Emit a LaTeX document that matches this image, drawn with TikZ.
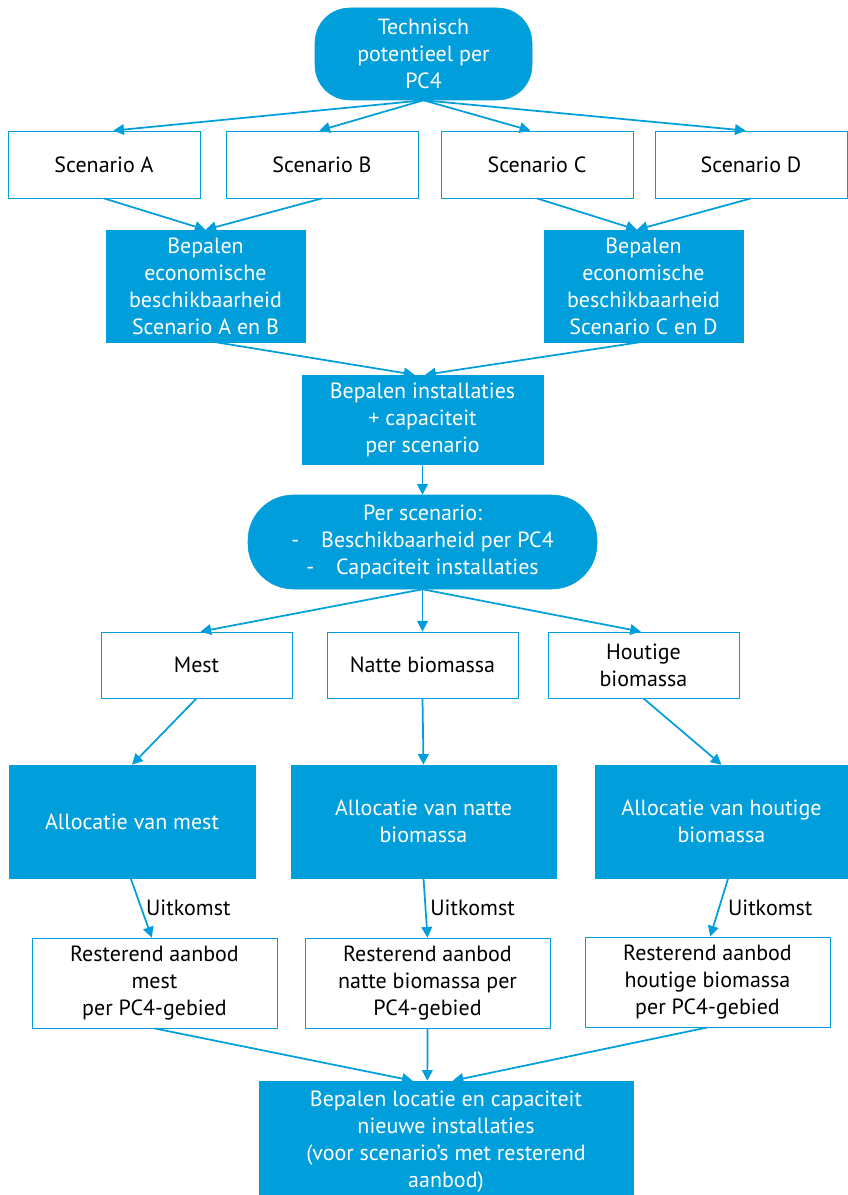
\documentclass[tikz,border=0pt]{standalone}
\usepackage{fontspec}
\setmainfont{PT Sans}
\usetikzlibrary{arrows.meta}
\definecolor{tnoblauw}{RGB}{0,158,219}

\begin{document}
\begin{tikzpicture}[x=0.75pt,y=0.75pt,yscale=-1,xscale=1,
  font=\fontsize{16.5}{20.25}\selectfont,
  vol/.style={fill=tnoblauw,draw=tnoblauw,text=white,align=center,inner sep=0pt},
  leeg/.style={fill=white,draw=tnoblauw,line width=0.6pt,text=black,align=center,inner sep=0pt},
  pijl/.style={draw=tnoblauw,line width=1.3pt,-{Triangle[length=8pt,width=8pt]}}]
\useasboundingbox (0,0) rectangle (848,1195);

% Text Node
\node [vol,rounded corners=26pt,minimum width=162.75pt,minimum height=69pt] (tech) at (423.5,54) {Technisch\\potentieel per\\PC4};
% Text Node
\node [leeg,minimum width=144pt,minimum height=50.25pt] (scenA) at (104,164.5) {Scenario A};
\node [leeg,minimum width=144pt,minimum height=50.25pt] (scenB) at (322,164.5) {Scenario B};
\node [leeg,minimum width=144pt,minimum height=50.25pt] (scenC) at (537,164.5) {Scenario C};
\node [leeg,minimum width=144pt,minimum height=50.25pt] (scenD) at (751,164.5) {Scenario D};
% Text Node
\node [vol,minimum width=149.25pt,minimum height=84pt] (bepAB) at (205.5,286) {Bepalen\\economische\\beschikbaarheid\\Scenario A en B};
\node [vol,minimum width=149.25pt,minimum height=84pt] (bepCD) at (643.5,286) {Bepalen\\economische\\beschikbaarheid\\Scenario C en D};
% Text Node
\node [vol,minimum width=180.75pt,minimum height=66.75pt] (inst) at (422.5,419.5) {Bepalen installaties\\+ capaciteit\\per scenario};
% Text Node
\node [vol,rounded corners=34pt,minimum width=261.75pt,minimum height=70.5pt] (perscen) at (422.5,542) {Per scenario:\\-\quad Beschikbaarheid per PC4\\-\quad Capaciteit installaties};
% Text Node
\node [leeg,minimum width=143.25pt,minimum height=49.5pt] (mest) at (196.5,665) {Mest};
\node [leeg,minimum width=143.25pt,minimum height=49.5pt] (natte) at (422.5,665) {Natte biomassa};
\node [leeg,minimum width=143.25pt,minimum height=49.5pt] (hout) at (643.5,665) {Houtige\\biomassa};
% Text Node
\node [vol,minimum width=184.5pt,minimum height=84.75pt] (allocM) at (132,821.5) {Allocatie van mest};
\node [vol,minimum width=198.75pt,minimum height=84.75pt] (allocN) at (423.5,821.5) {Allocatie van natte\\biomassa};
\node [vol,minimum width=189.75pt,minimum height=84.75pt] (allocH) at (721.5,821.5) {Allocatie van houtige\\biomassa};
% Text Node
\node [leeg,minimum width=183.75pt,minimum height=67.5pt] (restM) at (154.5,983) {Resterend aanbod\\mest\\per PC4-gebied};
\node [leeg,minimum width=183.75pt,minimum height=67.5pt] (restN) at (427.5,983) {Resterend aanbod\\natte biomassa per\\PC4-gebied};
\node [leeg,minimum width=183.75pt,minimum height=67.5pt] (restH) at (707.5,982) {Resterend aanbod\\houtige biomassa\\per PC4-gebied};
% Text Node
\node [vol,minimum width=280.5pt,minimum height=85.5pt] (nieuw) at (446,1138) {};
\node [text=white,align=center,inner sep=0pt] (nieuwtekst) at (446,1142) {Bepalen locatie en capaciteit\\nieuwe installaties\\(voor scenario’s met resterend\\aanbod)};

%Straight Lines
\draw [pijl] (tech.south) -- ([xshift=7pt]scenA.north);
\draw [pijl] (tech.south) -- ([xshift=-2pt]scenB.north);
\draw [pijl] (tech.south) -- ([xshift=-5pt]scenC.north);
\draw [pijl] (tech.south) -- ([xshift=-4pt]scenD.north);
%Straight Lines
\draw [pijl] (scenA.south) -- (bepAB.north);
\draw [pijl] (scenB.south) -- (bepAB.north);
\draw [pijl] (scenC.south) -- ([xshift=-5pt]bepCD.north);
\draw [pijl] (scenD.south) -- ([xshift=-5pt]bepCD.north);
%Straight Lines
\draw [pijl] ([xshift=8pt]bepAB.south) -- ([xshift=-6pt]inst.north);
\draw [pijl] ([xshift=-3pt]bepCD.south) -- ([xshift=2pt]inst.north);
\draw [pijl] (inst.south) -- (perscen.north);
%Straight Lines
\draw [pijl] (perscen.south) -- ([xshift=3pt]mest.north);
\draw [pijl] (perscen.south) -- (natte.north);
\draw [pijl] (perscen.south) -- ([xshift=-2pt]hout.north);
%Straight Lines
\draw [pijl] (mest.south) -- (allocM.north);
\draw [pijl] (natte.south) -- (allocN.north);
\draw [pijl] (hout.south) -- (allocH.north);
%Straight Lines
\draw [pijl] ([xshift=-1pt]allocM.south) -- node [right,inner sep=3pt,text=black] {Uitkomst} ([xshift=-2pt]restM.north);
\draw [pijl] (allocN.south) -- node [right,inner sep=3pt,text=black] {Uitkomst} (restN.north);
\draw [pijl] ([xshift=5pt]allocH.south) -- node [right,inner sep=6pt,text=black] {Uitkomst} ([xshift=2pt]restH.north);
%Straight Lines
\draw [pijl] (restM.south) -- ([xshift=-25pt]nieuw.north);
\draw [pijl] (restN.south) -- ([xshift=-14pt]nieuw.north);
\draw [pijl] (restH.south) -- ([xshift=5pt]nieuw.north);

\end{tikzpicture}
\end{document}
